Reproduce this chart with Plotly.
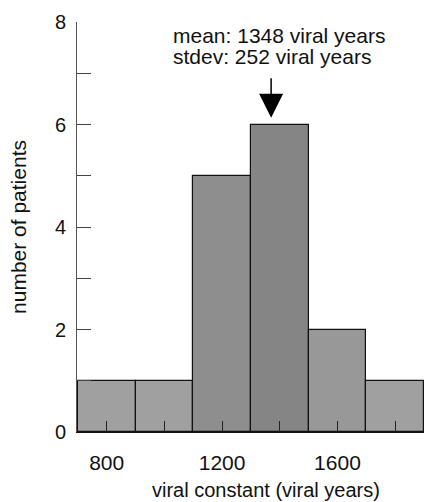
import plotly.graph_objects as go

# ---- data ----
bin_centers = [800, 1000, 1200, 1400, 1600, 1800]
bin_width = 200
patient_counts = [1, 1, 5, 6, 2, 1]
x_tick_values = [800, 1000, 1200, 1400, 1600, 1800]
x_tick_labels = ["800", "", "1200", "", "1600", ""]
y_tick_values = [0, 1, 2, 3, 4, 5, 6, 7, 8]
y_tick_labels = ["0", "", "2", "", "4", "", "6", "", "8"]
mean_label = "mean: 1348 viral years"
stdev_label = "stdev: 252 viral years"
x_title = "viral constant (viral years)"
y_title = "number of patients"
arrow_x = 1370
arrow_y_tail = 6.93
arrow_y_tip = 6.13

bar_colors = ["#a0a0a0", "#a0a0a0", "#8e8e8e", "#858585", "#989898", "#a0a0a0"]
FONT = "Liberation Sans, Arial, Helvetica, sans-serif"

W, H = 424, 502
ML, MR, MT, MB = 77, 0, 22, 70
plot_w = W - ML - MR
plot_h = H - MT - MB


def px_x(p):
    return (p - ML) / plot_w


def px_y(p):
    return (H - MB - p) / plot_h


fig = go.Figure()
fig.add_trace(go.Bar(
    x=bin_centers,
    y=patient_counts,
    width=[bin_width] * len(bin_centers),
    marker=dict(color=bar_colors, line=dict(color="#111111", width=1.2)),
    showlegend=False,
    hoverinfo="skip",
))

fig.add_annotation(
    x=arrow_x, y=arrow_y_tip, ax=arrow_x, ay=arrow_y_tail,
    xref="x", yref="y", axref="x", ayref="y",
    text="", showarrow=True, arrowhead=2, arrowsize=3.2, arrowwidth=1.5,
    arrowcolor="#000000",
)
for label, ypix in [(mean_label, 35), (stdev_label, 57)]:
    fig.add_annotation(
        x=px_x(171), y=px_y(ypix), xref="paper", yref="paper",
        text=label, showarrow=False,
        font=dict(family=FONT, size=21, color="#111111"),
        xanchor="left", yanchor="middle",
    )
fig.add_annotation(
    x=px_x(266), y=px_y(490), xref="paper", yref="paper",
    text=x_title, showarrow=False,
    font=dict(family=FONT, size=20, color="#111111"),
    xanchor="center", yanchor="middle",
)

fig.update_layout(
    width=W, height=H,
    margin=dict(l=ML, r=MR, t=MT, b=MB),
    paper_bgcolor="white", plot_bgcolor="white",
    bargap=0,
    font=dict(family=FONT, color="#111111"),
    xaxis=dict(
        range=[697, 1900],
        tickvals=x_tick_values, ticktext=x_tick_labels,
        ticks="inside", ticklen=11, tickcolor="#222222", tickwidth=1,
        showline=True, linecolor="#111111", linewidth=1.2,
        showgrid=False, zeroline=False,
        tickfont=dict(family=FONT, size=21),
        ticklabelstandoff=12,
    ),
    yaxis=dict(
        range=[0, 8],
        tickvals=y_tick_values, ticktext=y_tick_labels,
        ticks="inside", ticklen=14, tickcolor="#444444", tickwidth=1,
        showline=True, linecolor="#555555", linewidth=1,
        showgrid=False, zeroline=False,
        tickfont=dict(family=FONT, size=20),
        ticklabelstandoff=6,
        title=dict(text=y_title,
                   font=dict(family=FONT, size=21), standoff=22),
    ),
)

fig.write_html("out.html", config={"displayModeBar": False},
               post_script="document.body.style.margin='0';")
